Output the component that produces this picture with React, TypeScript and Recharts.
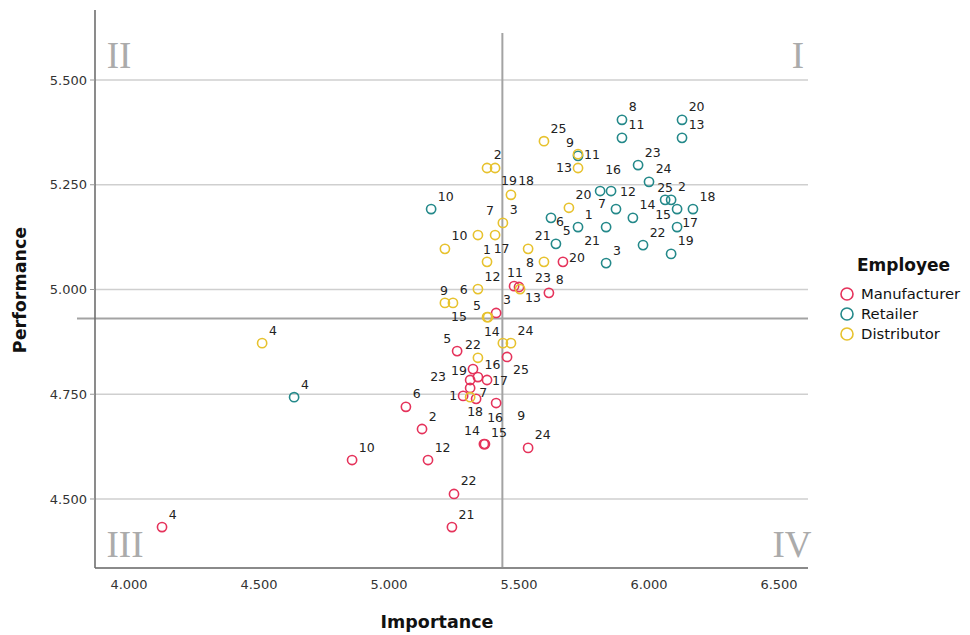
import React from 'react';
import { ScatterChart, Scatter, XAxis, YAxis, CartesianGrid, ReferenceLine } from 'recharts';

const employeeIds = [1, 2, 3, 4, 5, 6, 7, 8, 9, 10, 11, 12, 13, 14, 15, 16, 17, 18, 19, 20, 21, 22, 23, 24, 25];

const manufacturerImportance = [5.285, 5.127, 5.412, 4.127, 5.262, 5.065, 5.312, 5.615, 5.412, 4.858, 5.481, 5.150, 5.500, 5.365, 5.369, 5.342, 5.377, 5.335, 5.323, 5.669, 5.242, 5.250, 5.312, 5.535, 5.454];
const manufacturerPerformance = [4.746, 4.667, 4.944, 4.433, 4.853, 4.720, 4.765, 4.992, 4.729, 4.593, 5.008, 4.593, 5.006, 4.631, 4.631, 4.791, 4.784, 4.739, 4.810, 5.066, 4.433, 4.512, 4.784, 4.622, 4.839];

const retailerImportance = [5.727, 6.085, 5.835, 4.635, 5.642, 5.623, 5.873, 5.896, 5.727, 5.162, 5.896, 5.854, 6.127, 5.938, 6.108, 5.812, 6.108, 6.169, 6.085, 6.127, 5.835, 5.977, 5.958, 6.000, 6.062];
const retailerPerformance = [5.149, 5.214, 5.063, 4.743, 5.109, 5.171, 5.192, 5.405, 5.319, 5.192, 5.362, 5.235, 5.362, 5.171, 5.192, 5.235, 5.149, 5.192, 5.085, 5.405, 5.149, 5.106, 5.297, 5.257, 5.214];

const distributorImportance = [5.408, 5.377, 5.438, 4.512, 5.377, 5.246, 5.342, 5.596, 5.215, 5.215, 5.727, 5.342, 5.727, 5.438, 5.381, 5.312, 5.377, 5.408, 5.469, 5.692, 5.535, 5.342, 5.504, 5.469, 5.596];
const distributorPerformance = [5.130, 5.290, 5.159, 4.872, 4.934, 4.968, 5.130, 5.066, 4.968, 5.097, 5.323, 5.001, 5.290, 4.872, 4.934, 4.743, 5.066, 5.290, 5.226, 5.195, 5.097, 4.837, 5.001, 4.872, 5.354];

const seriesNames = ['Manufacturer', 'Retailer', 'Distributor'];
const legendTitle = 'Employee';
const xTicks = [4.0, 4.5, 5.0, 5.5, 6.0, 6.5];
const yTicks = [4.5, 4.75, 5.0, 5.25, 5.5];
const xDomain = [3.8692, 6.6115];
const yDomain = [4.3353, 5.6671];
const importanceCut = 5.436;
const performanceCut = 4.931;
const quadrantNames = ['I', 'II', 'III', 'IV'];

// label placement nudges (center offsets in px) – styling only
const labelNudges: Record<string, [number, number]> = {
  M1: [-10, 0], M5: [-10, -13], M7: [13, 5], M9: [25, 12], M11: [1, -14], M13: [14, 11],
  M14: [-12, -14], M15: [14, -12], M17: [13, 0], M18: [-1, 13], M19: [-14, 1], M20: [14, -4],
  M23: [-32, -4], M25: [14, 13],
  R6: [9, 4], R7: [-14, -6], R9: [-8, -13], R12: [17, 0], R15: [-14, 5], R16: [13, -22],
  R17: [13, -5], R21: [-14, 13], R25: [0, -12],
  D1: [-8, 14], D5: [-10, -12], D7: [12, -25], D8: [-14, 1], D9: [-1, -12], D11: [14, 0],
  D13: [-14, 0], D14: [-11, -12], D15: [-29, -1], D16: [25, 20], D18: [31, 13], D19: [-2, -14],
  D22: [-5, -13], D23: [23, -12],
};

const COLORS = ['#E5335B', '#24898A', '#E7C22E'];
const FONT = '"DejaVu Sans", sans-serif';

const build = (xs: number[], ys: number[]) =>
  employeeIds.map((id, i) => ({ id, x: xs[i], y: ys[i] }));

const manufacturerData = build(manufacturerImportance, manufacturerPerformance);
const retailerData = build(retailerImportance, retailerPerformance);
const distributorData = build(distributorImportance, distributorPerformance);

const makeShape = (prefix: string, color: string) => (props: any) => {
  const { cx, cy, payload } = props;
  if (cx == null || cy == null) return <g />;
  const id = payload.id;
  const w = String(id).length * 7.6;
  const nudge = labelNudges[prefix + id] ?? [7 + w / 2, -13];
  return (
    <g>
      <circle cx={cx} cy={cy} r={4.6} fill="none" stroke={color} strokeWidth={1.6} />
      <text
        x={cx + nudge[0]}
        y={cy + nudge[1]}
        textAnchor="middle"
        dominantBaseline="central"
        fontSize={12.5}
        fontFamily={FONT}
        fill="#222"
      >
        {id}
      </text>
    </g>
  );
};

const LegendBox = () => (
  <div style={{ position: 'absolute', left: 832, top: 246, width: 130, fontFamily: FONT, color: '#111' }}>
    <div style={{ fontWeight: 'bold', fontSize: 17, lineHeight: '22px', marginLeft: 17 }}>{legendTitle}</div>
    <div style={{ marginTop: 8 }}>
      {seriesNames.map((name, i) => (
        <div key={name} style={{ display: 'flex', alignItems: 'center', height: 20 }}>
          <svg width={14} height={14} style={{ display: 'block' }}>
            <circle cx={7} cy={7} r={6} fill="none" stroke={COLORS[i]} strokeWidth={1.6} />
          </svg>
          <span style={{ marginLeft: 7, fontSize: 14.8, lineHeight: '20px', whiteSpace: 'nowrap' }}>{name}</span>
        </div>
      ))}
    </div>
  </div>
);

export default function App() {
  return (
    <div style={{ position: 'relative', width: 962, height: 627, fontFamily: FONT }}>
      <ScatterChart width={962} height={627} margin={{ top: 2, right: 162, bottom: 0, left: 0 }}>
        <CartesianGrid vertical={false} horizontal stroke="#cfcfcf" strokeWidth={1.3} horizontalValues={yTicks} />
        <XAxis
          type="number"
          dataKey="x"
          domain={xDomain}
          ticks={xTicks}
          allowDataOverflow
          height={67}
          tickLine={false}
          tickSize={0}
          tickMargin={12}
          tickFormatter={(v: number) => v.toFixed(3)}
          tick={{ fontSize: 13, fill: '#333', fontFamily: FONT }}
          axisLine={{ stroke: '#8a8a8a', strokeWidth: 1.8 }}
        />
        <YAxis
          type="number"
          dataKey="y"
          domain={yDomain}
          ticks={yTicks}
          allowDataOverflow
          width={87}
          tickSize={5}
          tickMargin={3}
          tickFormatter={(v: number) => v.toFixed(3)}
          tick={{ fontSize: 13, fill: '#333', fontFamily: FONT }}
          tickLine={{ stroke: '#999' }}
          axisLine={{ stroke: '#6f6f6f', strokeWidth: 1.6 }}
        />
        <ReferenceLine
          segment={[{ x: importanceCut, y: yDomain[0] }, { x: importanceCut, y: 5.612 }]}
          stroke="#a3a3a3"
          strokeWidth={2}
        />
        <ReferenceLine
          segment={[{ x: 3.8, y: performanceCut }, { x: xDomain[1], y: performanceCut }]}
          stroke="#a3a3a3"
          strokeWidth={2}
          ifOverflow="visible"
        />
        <Scatter
          name={seriesNames[0]}
          data={manufacturerData}
          fill={COLORS[0]}
          shape={makeShape('M', COLORS[0])}
          isAnimationActive={false}
        />
        <Scatter
          name={seriesNames[1]}
          data={retailerData}
          fill={COLORS[1]}
          shape={makeShape('R', COLORS[1])}
          isAnimationActive={false}
        />
        <Scatter
          name={seriesNames[2]}
          data={distributorData}
          fill={COLORS[2]}
          shape={makeShape('D', COLORS[2])}
          isAnimationActive={false}
        />
      </ScatterChart>
      <LegendBox />
      <svg
        width={962}
        height={627}
        style={{ position: 'absolute', left: 0, top: 0, pointerEvents: 'none' }}
      >
        <g fontFamily='"Liberation Serif", serif' fontSize={37} fill="#ababab">
          <text x={790} y={60} textAnchor="middle">{quadrantNames[0]}</text>
          <text x={111} y={60} textAnchor="middle">{quadrantNames[1]}</text>
          <text x={117} y={549} textAnchor="middle">{quadrantNames[2]}</text>
          <text x={784} y={549} textAnchor="middle">{quadrantNames[3]}</text>
        </g>
        <text x={429} y={620} textAnchor="middle" fontFamily={FONT} fontWeight="bold" fontSize={17.5} fill="#111">
          Importance
        </text>
        <text
          x={0}
          y={0}
          transform="translate(18,282) rotate(-90)"
          textAnchor="middle"
          fontFamily={FONT}
          fontWeight="bold"
          fontSize={17.5}
          fill="#111"
        >
          Performance
        </text>
      </svg>
    </div>
  );
}
